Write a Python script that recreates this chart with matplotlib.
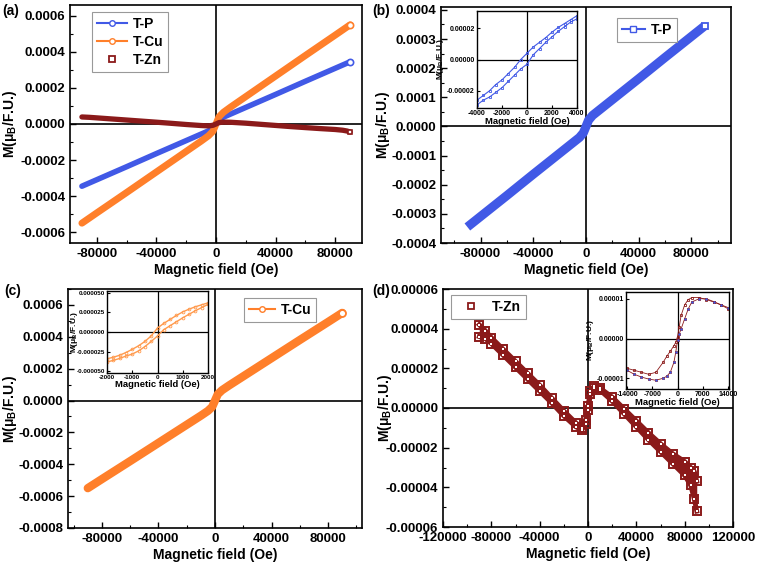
import numpy as np
import matplotlib
matplotlib.use('Agg')
import matplotlib.pyplot as plt
from matplotlib.ticker import MultipleLocator, FormatStrFormatter, FixedLocator
from matplotlib.lines import Line2D

plt.rcParams['font.family'] = ['Liberation Sans', 'DejaVu Sans']
plt.rcParams['font.weight'] = 'bold'
plt.rcParams['axes.labelweight'] = 'bold'
plt.rcParams['axes.unicode_minus'] = False
plt.rcParams['mathtext.fontset'] = 'custom'
plt.rcParams['mathtext.rm'] = 'Liberation Sans:bold'
plt.rcParams['mathtext.it'] = 'Liberation Sans:bold'
plt.rcParams['mathtext.bf'] = 'Liberation Sans:bold'

# ---- data (field in Oe, magnetisation in muB/F.U.) ----
# T-P main M-H curve, M in 1e-4
tp_h = [-90000, -80000, -60000, -40000, -20000, -10000, -5000, -2000, 0,
        2000, 5000, 10000, 20000, 40000, 60000, 80000, 90000]
tp_m = [-3.45, -3.09, -2.37, -1.64, -0.92, -0.56, -0.38, -0.22, 0.0,
        0.22, 0.38, 0.56, 0.92, 1.64, 2.37, 3.09, 3.45]

# T-Cu main M-H curve, M in 1e-4
cu_h = tp_h
cu_m = [-5.50, -4.93, -3.80, -2.66, -1.52, -0.95, -0.65, -0.40, 0.0,
        0.40, 0.65, 0.95, 1.52, 2.66, 3.80, 4.93, 5.50]

# T-Zn main M-H curve, two sweeps, M in 1e-5
zn_h = [-90000, -85000, -80000, -70000, -60000, -50000, -40000, -30000, -20000,
        -10000, -5000, -2000, 0, 2000, 5000, 10000, 20000, 30000, 40000,
        50000, 60000, 70000, 80000, 85000, 88000, 90000]
zn_a = [4.2, 3.9, 3.55, 2.95, 2.35, 1.75, 1.15, 0.5, -0.15, -0.75, -1.0, -0.6,
        0.1, 0.85, 1.1, 1.0, 0.55, -0.05, -0.65, -1.25, -1.8, -2.3, -2.7,
        -3.0, -3.2, -3.7]
zn_b = [3.6, 3.5, 3.25, 2.65, 2.05, 1.45, 0.85, 0.25, -0.4, -0.95, -1.1, -0.8,
        -0.1, 0.7, 1.0, 0.9, 0.35, -0.3, -0.95, -1.6, -2.2, -2.8, -3.4,
        -3.9, -4.6, -5.2]

# insets: low-field loops (M in 1e-5)
tp_loop_h = [-4000, -3500, -3000, -2500, -2000, -1500, -1000, -500, 0,
             500, 1000, 1500, 2000, 2500, 3000, 3500, 4000]
tp_loop_dn = [-2.6, -2.3, -2.0, -1.6, -1.3, -0.9, -0.5, 0.0, 0.4,
              0.8, 1.1, 1.4, 1.75, 2.05, 2.3, 2.55, 2.8]
tp_loop_up = [-2.9, -2.6, -2.4, -2.1, -1.8, -1.4, -1.0, -0.6, -0.3,
              0.3, 0.7, 1.1, 1.45, 1.8, 2.1, 2.4, 2.6]

cu_loop_h = [-2000, -1750, -1500, -1250, -1000, -750, -500, -250, 0,
             250, 500, 750, 1000, 1250, 1500, 1750, 2000]
cu_loop_dn = [-3.4, -3.2, -2.95, -2.6, -2.2, -1.75, -1.2, -0.5, 0.5,
              1.1, 1.6, 2.1, 2.55, 2.9, 3.2, 3.45, 3.7]
cu_loop_up = [-3.8, -3.6, -3.35, -3.05, -2.8, -2.4, -1.85, -1.2, -0.5,
              0.3, 0.8, 1.3, 1.8, 2.25, 2.7, 3.1, 3.5]

zn_loop_h = [-14000, -12000, -10000, -8000, -6000, -4000, -3000, -2000, -1000,
             -500, 0, 500, 1000, 2000, 3000, 4000, 6000, 8000, 10000, 12000, 14000]
zn_loop_dn = [-0.75, -0.8, -0.85, -0.9, -0.85, -0.6, -0.45, -0.32, -0.18,
              -0.1, 0.05, 0.3, 0.58, 0.85, 0.98, 1.03, 1.03, 0.98, 0.92, 0.85, 0.75]
zn_loop_up = [-0.8, -0.9, -0.97, -1.02, -1.05, -1.0, -0.95, -0.85, -0.6,
              -0.35, -0.05, 0.12, 0.24, 0.5, 0.75, 0.92, 1.0, 1.0, 0.93, 0.85, 0.78]

BLUE = '#4159e6'
ORANGE = '#ff7f2a'
ORANGE_L = '#ff9a4d'
DRED = '#8b1a1a'
YLABEL = 'M(μ$_\\mathrm{B}$/F.U.)'
XLABEL = 'Magnetic field (Oe)'

W, H = 758, 569
fig = plt.figure(figsize=(W / 100, H / 100), dpi=100)


def px_rect(l, t, r, b):
    return [l / W, 1 - b / H, (r - l) / W, (b - t) / H]


def style_main(ax, xlim, ylim, xmaj, ymaj, yfmt, ylab_x):
    ax.set_xlim(*xlim)
    ax.set_ylim(*ylim)
    ax.xaxis.set_major_locator(MultipleLocator(xmaj))
    ax.xaxis.set_minor_locator(MultipleLocator(xmaj / 2))
    ax.yaxis.set_major_locator(MultipleLocator(ymaj))
    ax.yaxis.set_minor_locator(MultipleLocator(ymaj / 2))
    ax.yaxis.set_major_formatter(FormatStrFormatter(yfmt))
    ax.xaxis.set_major_formatter(FormatStrFormatter('%d'))
    ax.tick_params(which='major', direction='in', length=4, width=1,
                   labelsize=9.5, top=False, right=False)
    ax.tick_params(which='minor', direction='in', length=2.5, width=0.8,
                   top=False, right=False)
    for lab in ax.get_xticklabels() + ax.get_yticklabels():
        lab.set_fontweight('bold')
    for s in ax.spines.values():
        s.set_linewidth(1.2)
    ax.axhline(0, color='black', lw=1.2, zorder=1)
    ax.axvline(0, color='black', lw=1.2, zorder=1)
    ax.set_xlabel(XLABEL, fontsize=10, fontweight='bold', labelpad=2)
    ax.set_ylabel(YLABEL, fontsize=10, fontweight='bold')
    ax.yaxis.set_label_coords(ylab_x, 0.5)


def style_inset(ax, xlim, ylim, xticks, yticks, yfmt, tsize=5):
    ax.set_xlim(*xlim)
    ax.set_ylim(*ylim)
    ax.xaxis.set_major_locator(FixedLocator(xticks))
    ax.yaxis.set_major_locator(FixedLocator(yticks))
    ax.yaxis.set_major_formatter(FormatStrFormatter(yfmt))
    ax.xaxis.set_major_formatter(FormatStrFormatter('%d'))
    ax.tick_params(direction='in', length=2, width=0.8, labelsize=tsize, pad=1.5)
    for lab in ax.get_xticklabels() + ax.get_yticklabels():
        lab.set_fontweight('bold')
    for s in ax.spines.values():
        s.set_linewidth(1.0)
    ax.axhline(0, color='black', lw=0.9, zorder=1)
    ax.axvline(0, color='black', lw=0.9, zorder=1)
    ax.set_xlabel(XLABEL, fontsize=6.8, fontweight='bold', labelpad=0)
    ax.set_ylabel(YLABEL, fontsize=6, fontweight='bold', labelpad=0.5)


def legend(ax, handles, loc, anchor, hl=2.2):
    leg = ax.legend(handles=handles, loc=loc, bbox_to_anchor=anchor,
                    borderaxespad=0, fancybox=False, edgecolor='#999999',
                    framealpha=1, prop={'size': 10, 'weight': 'bold'},
                    handlelength=hl, handletextpad=0.4, borderpad=0.35,
                    labelspacing=0.3)
    leg.get_frame().set_linewidth(0.8)


e4 = 1e-4
e5 = 1e-5
tp = np.array(tp_m) * e4
cu = np.array(cu_m) * e4
za = np.array(zn_a) * e5
zb = np.array(zn_b) * e5

# ---- (a) ----
ax = fig.add_axes(px_rect(70, 5, 362, 243))
ax.plot(tp_h, tp, color=BLUE, lw=4, solid_capstyle='round', zorder=3)
ax.plot(cu_h, cu, color=ORANGE, lw=5, solid_capstyle='round', zorder=3)
ax.plot(zn_h, (za + zb) / 2, color=DRED, lw=3.8, solid_capstyle='round', zorder=4)
ax.plot([tp_h[-1]], [tp[-1]], 'o', ms=4.5, mfc='white', mec=BLUE, mew=1.2, zorder=5)
ax.plot([cu_h[-1]], [cu[-1]], 'o', ms=4.5, mfc='white', mec=ORANGE, mew=1.2, zorder=5)
ax.plot([zn_h[-1]], [(za[-1] + zb[-1]) / 2], 's', ms=3.5, mfc='white', mec=DRED, mew=1.2, zorder=5)
style_main(ax, (-98000, 98000), (-0.00066, 0.00066), 40000, 0.0002, '%.4f', -0.175)
legend(ax, [
    Line2D([], [], color=BLUE, lw=1.5, marker='o', ms=4, mfc='white', mec=BLUE, label='T-P'),
    Line2D([], [], color=ORANGE, lw=1.5, marker='o', ms=4, mfc='white', mec=ORANGE, label='T-Cu'),
    Line2D([], [], color=DRED, lw=0, marker='s', ms=4, mfc='white', mec=DRED, mew=1.3, label='T-Zn'),
], 'upper left', (0.075, 0.97))

# ---- (b) ----
ax = fig.add_axes(px_rect(441, 7, 731, 243))
ax.plot(tp_h, tp, color=BLUE, lw=6.5, solid_capstyle='butt', zorder=3)
ax.plot([tp_h[-1]], [tp[-1]], 's', ms=5, mfc='white', mec=BLUE, mew=1.3, zorder=5)
style_main(ax, (-110000, 110000), (-0.0004, 0.00041), 40000, 0.0001, '%.4f', -0.17)
legend(ax, [Line2D([], [], color=BLUE, lw=1.5, marker='s', ms=4, mfc='white',
                   mec=BLUE, label='T-P')], 'upper right', (0.814, 0.953), hl=1.7)

ins = fig.add_axes(px_rect(477, 11, 577, 108))
ins.plot(tp_loop_h, np.array(tp_loop_dn) * e5, color=BLUE, lw=0.8, marker='s',
         ms=2, mfc='none', mec=BLUE, mew=0.6)
ins.plot(tp_loop_h, np.array(tp_loop_up) * e5, color=BLUE, lw=0.8, marker='s',
         ms=2, mfc='none', mec=BLUE, mew=0.6)
style_inset(ins, (-4000, 4000), (-3.1e-5, 3.1e-5), [-4000, -2000, 0, 2000, 4000],
            [-2e-5, 0, 2e-5], '%.5f')

# ---- (c) ----
ax = fig.add_axes(px_rect(68, 289, 362, 528))
ax.plot(cu_h, cu, color=ORANGE, lw=6, solid_capstyle='round', zorder=3)
ax.plot([cu_h[-1]], [cu[-1]], 'o', ms=5, mfc='white', mec=ORANGE, mew=1.3, zorder=5)
style_main(ax, (-104000, 104000), (-0.0008, 0.0007), 40000, 0.0002, '%.4f', -0.165)
legend(ax, [Line2D([], [], color=ORANGE, lw=1.5, marker='o', ms=4, mfc='white',
                   mec=ORANGE, label='T-Cu')], 'upper right', (0.844, 0.962), hl=1.9)

ins = fig.add_axes(px_rect(107, 291, 208, 373))
ins.plot(cu_loop_h, np.array(cu_loop_dn) * e5, color=ORANGE_L, lw=1, marker='o',
         ms=2, mfc='none', mec=ORANGE_L, mew=0.6)
ins.plot(cu_loop_h, np.array(cu_loop_up) * e5, color=ORANGE_L, lw=1, marker='o',
         ms=2, mfc='none', mec=ORANGE_L, mew=0.6)
style_inset(ins, (-2000, 2000), (-5.2e-5, 5.2e-5), [-2000, -1000, 0, 1000, 2000],
            [-5e-5, -2.5e-5, 0, 2.5e-5, 5e-5], '%.6f', tsize=4.5)
ins.yaxis.set_label_coords(-0.27, 0.5)

# ---- (d) ----
ax = fig.add_axes(px_rect(443, 289, 733, 527))
ax.fill_between(zn_h, za, zb, color=DRED, lw=0, zorder=2)
ax.plot(zn_h, za, color=DRED, lw=3.5, zorder=3)
ax.plot(zn_h, zb, color=DRED, lw=3.5, zorder=3)
ax.plot(zn_h, za, ls='none', marker='s', ms=5.5, mfc='none', mec=DRED, mew=1.4, zorder=4)
ax.plot(zn_h, zb, ls='none', marker='s', ms=5.5, mfc='none', mec=DRED, mew=1.4, zorder=4)
ax.plot(zn_h, za, ls='none', marker='s', ms=1.8, mfc='white', mec='white', mew=0, zorder=5)
ax.plot(zn_h, zb, ls='none', marker='s', ms=1.8, mfc='white', mec='white', mew=0, zorder=5)
style_main(ax, (-120000, 120000), (-0.00006, 0.00006), 40000, 0.00002, '%.5f', -0.17)
legend(ax, [Line2D([], [], lw=0, marker='s', ms=4, mfc='white', mec=DRED,
                   mew=1.3, label='T-Zn')], 'upper left', (0.028, 0.975))

ins = fig.add_axes(px_rect(626, 292, 729, 389))
ins.plot(zn_loop_h, np.array(zn_loop_dn) * e5, color=DRED, lw=0.6, marker='s',
         ms=2, mfc='none', mec=DRED, mew=0.6)
ins.plot(zn_loop_h, np.array(zn_loop_up) * e5, color=DRED, lw=0.6, marker='s',
         ms=2, mfc='none', mec=DRED, mew=0.6)
ins.plot(zn_loop_h, np.array(zn_loop_up) * e5, ls='none', marker='.', ms=1.5,
         color=BLUE)
style_inset(ins, (-14300, 14300), (-1.27e-5, 1.17e-5), [-14000, -7000, 0, 7000, 14000],
            [-1e-5, 0, 1e-5], '%.5f')

# panel labels
for lbl, x, y in [('(a)', 2, 4), ('(b)', 372, 4), ('(c)', 4, 284), ('(d)', 372, 284)]:
    fig.text(x / W, 1 - y / H, lbl, fontsize=10, fontweight='bold', va='top', ha='left')

fig.savefig('out.png', dpi=100)
